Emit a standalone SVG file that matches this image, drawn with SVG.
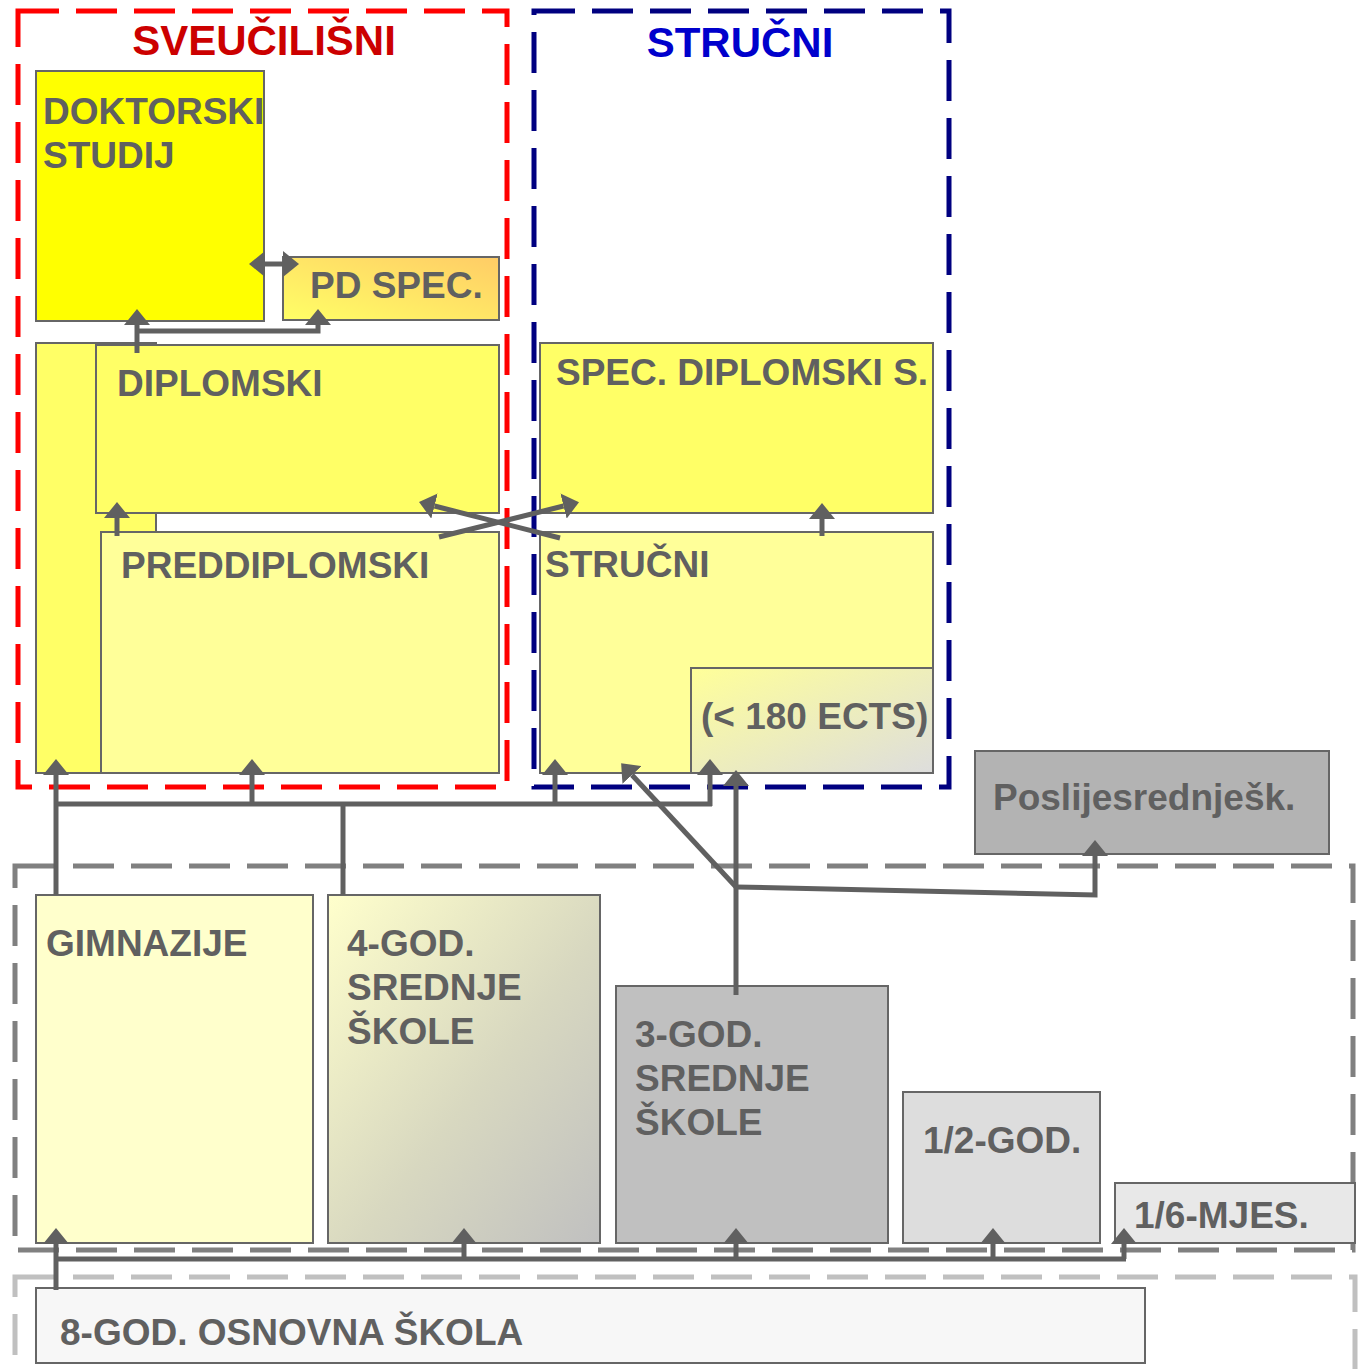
<svg xmlns="http://www.w3.org/2000/svg" width="1358" height="1369" viewBox="0 0 1358 1369">
<style>
.node{stroke:#666;stroke-width:2}
.t{font-family:"Liberation Sans",Arial,sans-serif;font-weight:bold;font-size:37px;fill:#606060}
.title{font-family:"Liberation Sans",Arial,sans-serif;font-weight:bold;font-size:42px}
.frame{fill:none;stroke-width:5;stroke-dasharray:41 17}
.c{fill:none;stroke:#606060;stroke-width:5}
.ca{fill:none;stroke:#606060;stroke-width:5;marker-end:url(#ah)}
</style>
<defs>
<marker id="ah" viewBox="0 0 16 26" refX="0" refY="13" markerWidth="16" markerHeight="26" markerUnits="userSpaceOnUse" orient="auto">
<path d="M0,0 L16,13 L0,26 z" fill="#606060"/>
</marker>
<marker id="ahs" viewBox="0 0 16 26" refX="0" refY="13" markerWidth="16" markerHeight="26" markerUnits="userSpaceOnUse" orient="auto-start-reverse">
<path d="M0,0 L16,13 L0,26 z" fill="#606060"/>
</marker>
<linearGradient id="gPD" x1="0" y1="1" x2="1" y2="0">
<stop offset="0" stop-color="#ffff66"/>
<stop offset="1" stop-color="#ffcc66"/>
</linearGradient>
<linearGradient id="g4" x1="0" y1="0" x2="1" y2="1">
<stop offset="0" stop-color="#ffffcc"/>
<stop offset="0.55" stop-color="#d8d8c0"/>
<stop offset="1" stop-color="#c0c0c0"/>
</linearGradient>
<linearGradient id="gE" x1="0" y1="0" x2="1" y2="1">
<stop offset="0" stop-color="#ffff99"/>
<stop offset="1" stop-color="#dddddd"/>
</linearGradient>
</defs>

<g id="frames">
<rect class="frame" x="18" y="11" width="489" height="776" stroke="#ff0000"/>
<rect class="frame" x="534" y="11" width="415" height="776" stroke="#000080"/>
<rect class="frame" x="15" y="866" width="1338" height="384" stroke="#808080"/>
<rect class="frame" x="15" y="1277" width="1340" height="120" stroke="#c0c0c0"/>
<text class="title" x="264" y="55" text-anchor="middle" fill="#cc0000">SVEUČILIŠNI</text>
<text class="title" x="740" y="57" text-anchor="middle" fill="#0000cc">STRUČNI</text>
</g>

<g id="doktorski">
<rect class="node" x="36" y="71" width="228" height="250" fill="#ffff00"/>
<text class="t" x="43" y="124">DOKTORSKI</text>
<text class="t" x="43" y="168">STUDIJ</text>
</g>
<g id="pdspec">
<rect class="node" x="283" y="257" width="216" height="63" fill="url(#gPD)"/>
<text class="t" x="310" y="298">PD SPEC.</text>
</g>
<g id="strip">
<rect class="node" x="36" y="343" width="120" height="430" fill="#ffff66"/>
</g>
<g id="diplomski">
<rect class="node" x="96" y="345" width="403" height="168" fill="#ffff66"/>
<text class="t" x="117" y="396">DIPLOMSKI</text>
</g>
<g id="preddiplomski">
<rect class="node" x="101" y="532" width="398" height="241" fill="#ffff99"/>
<text class="t" x="121" y="578">PREDDIPLOMSKI</text>
</g>
<g id="specdiplomski">
<rect class="node" x="540" y="343" width="393" height="170" fill="#ffff66"/>
<text class="t" x="556" y="385">SPEC. DIPLOMSKI S.</text>
</g>
<g id="strucni">
<rect class="node" x="540" y="532" width="393" height="241" fill="#ffff99"/>
<text class="t" x="545" y="577">STRUČNI</text>
</g>
<g id="ects">
<rect class="node" x="691" y="668" width="242" height="105" fill="url(#gE)"/>
<text class="t" x="701" y="729">(&lt; 180 ECTS)</text>
</g>
<g id="poslije">
<rect class="node" x="975" y="751" width="354" height="103" fill="#b3b3b3"/>
<text class="t" x="993" y="810">Poslijesrednješk.</text>
</g>
<g id="gimnazije">
<rect class="node" x="36" y="895" width="277" height="348" fill="#ffffcc"/>
<text class="t" x="46" y="956">GIMNAZIJE</text>
</g>
<g id="srednje4">
<rect class="node" x="328" y="895" width="272" height="348" fill="url(#g4)"/>
<text class="t" x="347" y="956">4-GOD.</text>
<text class="t" x="347" y="1000">SREDNJE</text>
<text class="t" x="347" y="1044">ŠKOLE</text>
</g>
<g id="srednje3">
<rect class="node" x="616" y="986" width="272" height="257" fill="#c0c0c0"/>
<text class="t" x="635" y="1047">3-GOD.</text>
<text class="t" x="635" y="1091">SREDNJE</text>
<text class="t" x="635" y="1135">ŠKOLE</text>
</g>
<g id="god12">
<rect class="node" x="903" y="1092" width="197" height="151" fill="#dddddd"/>
<text class="t" x="923" y="1153">1/2-GOD.</text>
</g>
<g id="mjes16">
<rect class="node" x="1115" y="1183" width="240" height="60" fill="#e8e8e8"/>
<text class="t" x="1134" y="1228">1/6-MJES.</text>
</g>
<g id="osnovna">
<rect class="node" x="36" y="1288" width="1109" height="75" fill="#f7f7f7"/>
<text class="t" x="60" y="1345">8-GOD. OSNOVNA ŠKOLA</text>
</g>

<g id="connectors">
<path d="M265,264 H283" class="c" marker-start="url(#ahs)" marker-end="url(#ah)"/>
<path class="ca" d="M137,353 V325"/>
<path class="ca" d="M137,331 H318 V325"/>
<path class="ca" d="M117,536 V518"/>
<path class="ca" d="M439,537 L563.5,506"/>
<path class="ca" d="M560,538 L434.5,506"/>
<path class="ca" d="M822,536 V519"/>
<path class="c" d="M56,804 H712"/>
<path class="ca" d="M56,895 V775"/>
<path class="ca" d="M252,804 V775"/>
<path class="c" d="M343,804 V895"/>
<path class="ca" d="M555,804 V775"/>
<path class="ca" d="M710,806 V775"/>
<path class="ca" d="M736,995 V786"/>
<path class="ca" d="M736,887 L632,775"/>
<path class="ca" d="M736,887 L1095,895 V856"/>
<path class="c" d="M56,1259 H1126"/>
<path class="ca" d="M56,1290 V1244"/>
<path class="ca" d="M464,1259 V1244"/>
<path class="ca" d="M736,1259 V1244"/>
<path class="ca" d="M993,1259 V1244"/>
<path class="ca" d="M1124,1259 V1244"/>
</g>
</svg>
